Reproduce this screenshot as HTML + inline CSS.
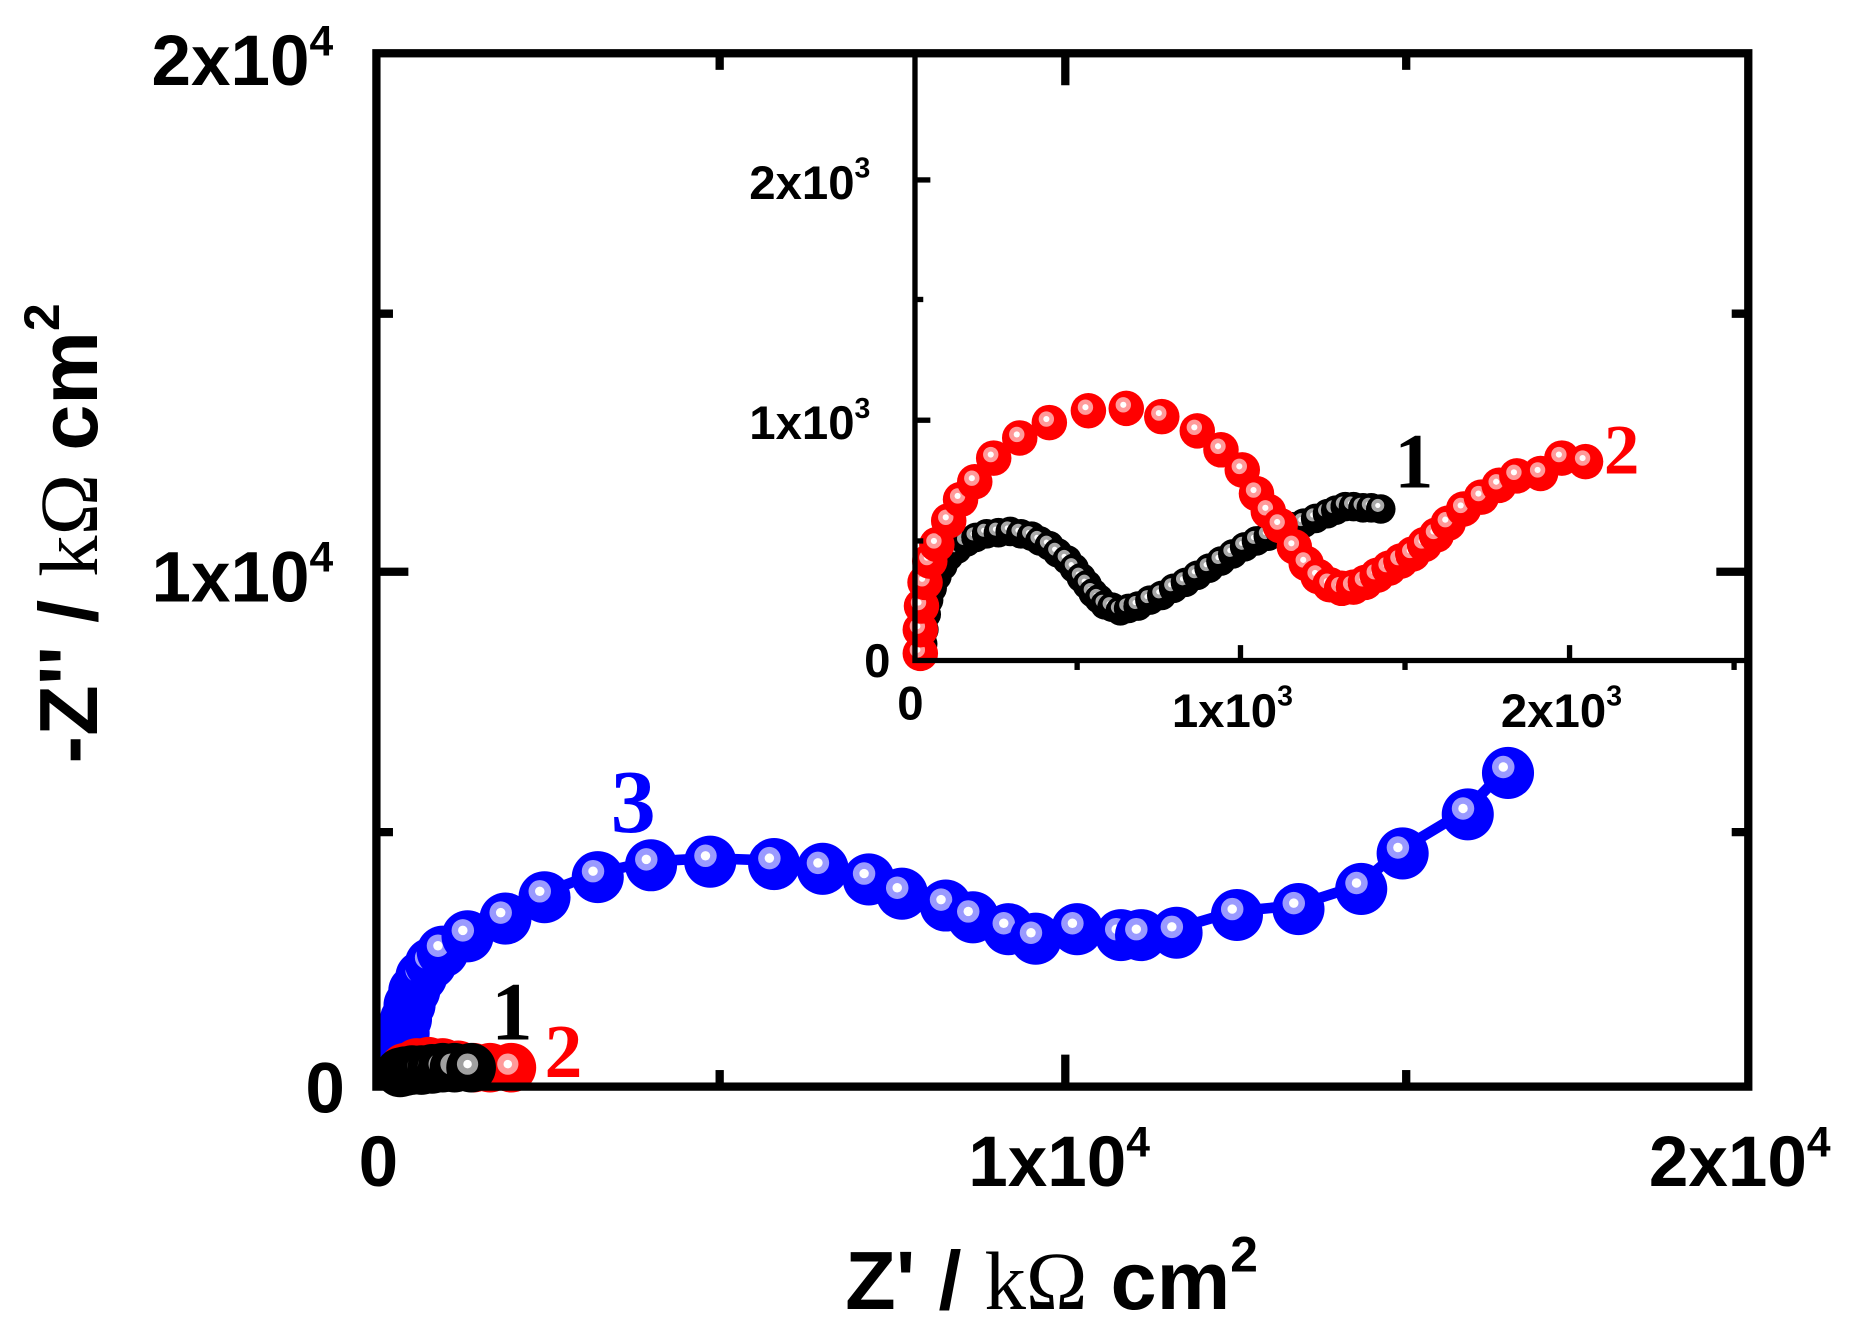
<!DOCTYPE html>
<html><head><meta charset="utf-8"><style>html,body{margin:0;padding:0;background:#fff}svg{display:block}</style></head>
<body>
<svg width="1856" height="1332" viewBox="0 0 1568 1125.3" xmlns="http://www.w3.org/2000/svg" xmlns:xlink="http://www.w3.org/1999/xlink" font-family="Liberation Sans, Arial, sans-serif" font-weight="bold">
<defs>
<g id="B"><circle cx="2" cy="3" r="22" fill="#0000ff"/><circle cx="-2" cy="-2" r="9.5" fill="#9a9aff"/><circle cx="-2" cy="-2" r="4" fill="#fff"/></g>
<g id="R"><circle cx="2" cy="2" r="21" fill="#ff0000"/><circle cx="-1" cy="-1" r="9" fill="#ff9a9a"/><circle cx="-1" cy="-1" r="3.6" fill="#fff"/></g>
<g id="K"><circle cx="2" cy="2" r="21" fill="#000"/><circle cx="-1" cy="-1" r="9" fill="#a0a0a0"/><circle cx="-1" cy="-1" r="3.6" fill="#fff"/></g>
<g id="r"><circle cx="1.5" cy="2" r="15" fill="#ff0000"/><circle cx="-1" cy="-1" r="6.5" fill="#ff9a9a"/><circle cx="-1" cy="-1" r="2.6" fill="#fff"/></g>
<g id="k"><circle cx="1.5" cy="2" r="12.5" fill="#000"/><circle cx="-1" cy="-1" r="5.5" fill="#a8a8a8"/><circle cx="-1" cy="-1" r="2.2" fill="#fff"/></g>
</defs>
<rect x="0" y="0" width="1568" height="1126" fill="#fff"/>
<polyline points="338,882 339,870 341,858 344,846 348,834 354,822 362,811 372,801 393,788 425,773 458,755 503,738 548,728 598,725 652,727 693,731 732,740 760,752 797,762 820,772 850,782 873,790 908,782 945,787 962,787 992,785 1043,770 1095,765 1148,748 1183,718 1238,685 1272,650" fill="none" stroke="#0000ff" stroke-width="9"/>
<g>
<use xlink:href="#B" x="338" y="882"/><use xlink:href="#B" x="339" y="870"/><use xlink:href="#B" x="341" y="858"/><use xlink:href="#B" x="344" y="846"/><use xlink:href="#B" x="348" y="834"/><use xlink:href="#B" x="354" y="822"/><use xlink:href="#B" x="362" y="811"/><use xlink:href="#B" x="372" y="801"/><use xlink:href="#B" x="393" y="788"/><use xlink:href="#B" x="425" y="773"/><use xlink:href="#B" x="458" y="755"/><use xlink:href="#B" x="503" y="738"/><use xlink:href="#B" x="548" y="728"/><use xlink:href="#B" x="598" y="725"/><use xlink:href="#B" x="652" y="727"/><use xlink:href="#B" x="693" y="731"/><use xlink:href="#B" x="732" y="740"/><use xlink:href="#B" x="760" y="752"/><use xlink:href="#B" x="797" y="762"/><use xlink:href="#B" x="820" y="772"/><use xlink:href="#B" x="850" y="782"/><use xlink:href="#B" x="873" y="790"/><use xlink:href="#B" x="908" y="782"/><use xlink:href="#B" x="945" y="787"/><use xlink:href="#B" x="962" y="787"/><use xlink:href="#B" x="992" y="785"/><use xlink:href="#B" x="1043" y="770"/><use xlink:href="#B" x="1095" y="765"/><use xlink:href="#B" x="1148" y="748"/><use xlink:href="#B" x="1183" y="718"/><use xlink:href="#B" x="1238" y="685"/><use xlink:href="#B" x="1272" y="650"/>
</g>
<g>
<use xlink:href="#R" x="340" y="900"/><use xlink:href="#R" x="350" y="896"/><use xlink:href="#R" x="360" y="895"/><use xlink:href="#R" x="372" y="896"/><use xlink:href="#R" x="385" y="898"/><use xlink:href="#R" x="398" y="900"/><use xlink:href="#R" x="412" y="900"/><use xlink:href="#R" x="430" y="900"/>
<use xlink:href="#K" x="336" y="904"/><use xlink:href="#K" x="340" y="903"/><use xlink:href="#K" x="346" y="902"/><use xlink:href="#K" x="354" y="902"/><use xlink:href="#K" x="363" y="901"/><use xlink:href="#K" x="372" y="900"/><use xlink:href="#K" x="382" y="900"/><use xlink:href="#K" x="396" y="900"/>
</g>
<rect x="771" y="45" width="706" height="513" fill="#fff"/>
<g>
<use xlink:href="#k" x="777" y="552"/><use xlink:href="#k" x="778" y="542"/><use xlink:href="#k" x="779" y="530"/><use xlink:href="#k" x="781" y="517"/><use xlink:href="#k" x="783" y="505"/><use xlink:href="#k" x="786" y="495"/><use xlink:href="#k" x="790" y="485"/><use xlink:href="#k" x="795" y="476"/><use xlink:href="#k" x="800" y="468"/><use xlink:href="#k" x="807" y="462"/><use xlink:href="#k" x="815" y="456"/><use xlink:href="#k" x="823" y="452"/><use xlink:href="#k" x="832" y="449"/><use xlink:href="#k" x="842" y="448"/><use xlink:href="#k" x="852" y="447"/><use xlink:href="#k" x="861" y="449"/><use xlink:href="#k" x="870" y="451"/><use xlink:href="#k" x="877" y="455"/><use xlink:href="#k" x="885" y="459"/><use xlink:href="#k" x="892" y="465"/><use xlink:href="#k" x="900" y="471"/><use xlink:href="#k" x="906" y="478"/><use xlink:href="#k" x="912" y="486"/><use xlink:href="#k" x="917" y="492"/><use xlink:href="#k" x="922" y="499"/><use xlink:href="#k" x="927" y="504"/><use xlink:href="#k" x="932" y="509"/><use xlink:href="#k" x="938" y="511"/><use xlink:href="#k" x="945" y="514"/><use xlink:href="#k" x="952" y="512"/><use xlink:href="#k" x="960" y="510"/><use xlink:href="#k" x="970" y="505"/><use xlink:href="#k" x="980" y="501"/><use xlink:href="#k" x="990" y="495"/><use xlink:href="#k" x="1000" y="490"/><use xlink:href="#k" x="1010" y="484"/><use xlink:href="#k" x="1020" y="478"/><use xlink:href="#k" x="1030" y="472"/><use xlink:href="#k" x="1040" y="466"/><use xlink:href="#k" x="1050" y="460"/><use xlink:href="#k" x="1060" y="455"/><use xlink:href="#k" x="1070" y="451"/><use xlink:href="#k" x="1080" y="447"/><use xlink:href="#k" x="1090" y="443"/><use xlink:href="#k" x="1100" y="440"/><use xlink:href="#k" x="1110" y="436"/><use xlink:href="#k" x="1120" y="432"/><use xlink:href="#k" x="1127" y="429"/><use xlink:href="#k" x="1135" y="426"/><use xlink:href="#k" x="1142" y="426"/><use xlink:href="#k" x="1150" y="427"/><use xlink:href="#k" x="1157" y="427"/><use xlink:href="#k" x="1165" y="428"/>
</g>
<g>
<use xlink:href="#r" x="776" y="550"/><use xlink:href="#r" x="776" y="530"/><use xlink:href="#r" x="777" y="510"/><use xlink:href="#r" x="780" y="490"/><use xlink:href="#r" x="784" y="472"/><use xlink:href="#r" x="790" y="458"/><use xlink:href="#r" x="800" y="438"/><use xlink:href="#r" x="810" y="420"/><use xlink:href="#r" x="822" y="405"/><use xlink:href="#r" x="838" y="385"/><use xlink:href="#r" x="860" y="368"/><use xlink:href="#r" x="885" y="355"/><use xlink:href="#r" x="918" y="345"/><use xlink:href="#r" x="950" y="343"/><use xlink:href="#r" x="980" y="350"/><use xlink:href="#r" x="1010" y="362"/><use xlink:href="#r" x="1030" y="378"/><use xlink:href="#r" x="1048" y="395"/><use xlink:href="#r" x="1060" y="415"/><use xlink:href="#r" x="1070" y="430"/><use xlink:href="#r" x="1080" y="442"/><use xlink:href="#r" x="1092" y="460"/><use xlink:href="#r" x="1102" y="474"/><use xlink:href="#r" x="1112" y="485"/><use xlink:href="#r" x="1122" y="492"/><use xlink:href="#r" x="1132" y="495"/><use xlink:href="#r" x="1142" y="494"/><use xlink:href="#r" x="1152" y="490"/><use xlink:href="#r" x="1162" y="484"/><use xlink:href="#r" x="1172" y="478"/><use xlink:href="#r" x="1182" y="472"/><use xlink:href="#r" x="1192" y="466"/><use xlink:href="#r" x="1202" y="458"/><use xlink:href="#r" x="1212" y="450"/><use xlink:href="#r" x="1222" y="440"/><use xlink:href="#r" x="1235" y="428"/><use xlink:href="#r" x="1250" y="418"/><use xlink:href="#r" x="1265" y="408"/><use xlink:href="#r" x="1280" y="400"/><use xlink:href="#r" x="1300" y="398"/><use xlink:href="#r" x="1318" y="385"/><use xlink:href="#r" x="1338" y="388"/>
</g>
<rect x="318" y="45" width="1159" height="873" fill="none" stroke="#000" stroke-width="7"/>
<g stroke="#000" stroke-width="7">
<line x1="318" y1="483" x2="345" y2="483"/><line x1="318" y1="265" x2="332" y2="265"/><line x1="318" y1="703" x2="332" y2="703"/>
<line x1="1477" y1="483" x2="1450" y2="483"/><line x1="1477" y1="265" x2="1463" y2="265"/><line x1="1477" y1="703" x2="1463" y2="703"/>
<line x1="900" y1="918" x2="900" y2="891"/><line x1="608" y1="918" x2="608" y2="904"/><line x1="1188" y1="918" x2="1188" y2="904"/>
<line x1="900" y1="45" x2="900" y2="72"/><line x1="608" y1="45" x2="608" y2="59"/><line x1="1188" y1="45" x2="1188" y2="59"/>
</g>
<g stroke="#000" stroke-width="4.5" fill="none">
<polyline points="773,45 773,558 1477,558"/>
<line x1="773" y1="152" x2="786" y2="152"/><line x1="773" y1="355" x2="786" y2="355"/><line x1="773" y1="253" x2="780" y2="253"/><line x1="773" y1="457" x2="780" y2="457"/>
<line x1="1048" y1="558" x2="1048" y2="545"/><line x1="1326" y1="558" x2="1326" y2="545"/>
<line x1="910" y1="558" x2="910" y2="566"/><line x1="1187" y1="558" x2="1187" y2="566"/><line x1="1465" y1="558" x2="1465" y2="566"/>
</g>
<g font-size="60" fill="#000">
<text x="128" y="72">2x10<tspan font-size="36" dy="-25">4</tspan></text>
<text x="128" y="508">1x10<tspan font-size="36" dy="-25">4</tspan></text>
<text x="258" y="940">0</text>
<text x="303" y="1002">0</text>
<text x="818" y="1002">1x10<tspan font-size="36" dy="-25">4</tspan></text>
<text x="1393" y="1002">2x10<tspan font-size="36" dy="-25">4</tspan></text>
</g>
<g font-size="40" fill="#000">
<text x="633" y="168">2x10<tspan font-size="24" dy="-18">3</tspan></text>
<text x="633" y="371">1x10<tspan font-size="24" dy="-18">3</tspan></text>
<text x="730" y="572">0</text>
<text x="758" y="608">0</text>
<text x="990" y="614">1x10<tspan font-size="24" dy="-18">3</tspan></text>
<text x="1268" y="614">2x10<tspan font-size="24" dy="-18">3</tspan></text>
</g>
<text x="714" y="1106" font-size="70" fill="#000">Z' / <tspan font-family="Liberation Serif, serif" font-weight="normal">kΩ</tspan> cm<tspan font-size="42" dy="-32">2</tspan></text>
<text transform="translate(82 645) rotate(-90)" font-size="70" fill="#000">-Z'' / <tspan font-family="Liberation Serif, serif" font-weight="normal">kΩ</tspan> cm<tspan font-size="42" dy="-32">2</tspan></text>
<g font-family="Liberation Serif, serif" font-weight="bold">
<text x="516" y="703" font-size="76" fill="#0000ff">3</text>
<text x="415" y="878" font-size="70" fill="#000">1</text>
<text x="460" y="910" font-size="64" fill="#ff0000">2</text>
<text x="1178" y="412" font-size="66" fill="#000">1</text>
<text x="1355" y="400" font-size="60" fill="#ff0000">2</text>
</g>
</svg>
</body></html>
